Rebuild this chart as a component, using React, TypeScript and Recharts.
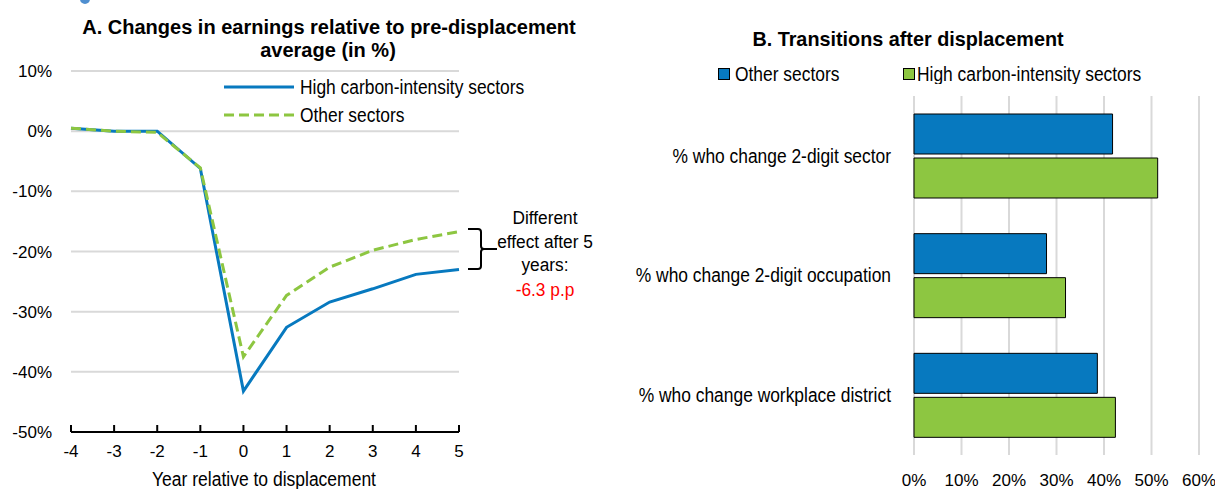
import React from "react";
import {
  LineChart,
  Line,
  BarChart,
  Bar,
  CartesianGrid,
  XAxis,
  YAxis,
  Legend,
} from "recharts";

// Panel A: earnings change relative to pre-displacement average (%)
const years = [-4, -3, -2, -1, 0, 1, 2, 3, 4, 5];
const highCarbon = [0.5, 0.0, 0.0, -6.2, -43.2, -32.6, -28.4, -26.2, -23.8, -23.0];
const otherSectors = [0.5, 0.0, -0.2, -6.1, -37.5, -27.3, -22.6, -19.8, -18.0, -16.7];
const earningsTicks = [-50, -40, -30, -20, -10, 0, 10];

// Panel B: transitions after displacement (%)
const transitions = [
  "% who change 2-digit sector",
  "% who change 2-digit occupation",
  "% who change workplace district",
];
const otherShare = [41.8, 27.9, 38.6];
const highCarbonShare = [51.3, 31.9, 42.4];
const shareTicks = [0, 10, 20, 30, 40, 50, 60];

const FONT = '"Liberation Sans", Arial, sans-serif';
const BLUE = "#0779BF";
const GREEN = "#8DC641";
const GRID = "#d9d9d9";
const NARROW = 0.87;

const earningsData = years.map((y, i) => ({
  year: y,
  high: highCarbon[i],
  other: otherSectors[i],
}));

const transitionData = transitions.map((c, i) => ({
  category: c,
  other: otherShare[i],
  high: highCarbonShare[i],
}));

const pct = (v: number) => `${v}%`;

// condensed text (stand-in for Arial Narrow)
const NText = ({
  x,
  y,
  size = 20,
  anchor = "start",
  fill = "#000",
  sx = NARROW,
  bold = false,
  children,
}: any) => (
  <text
    transform={`translate(${x},${y}) scale(${sx},1)`}
    textAnchor={anchor}
    dominantBaseline="central"
    fontSize={size}
    fontFamily={FONT}
    fontWeight={bold ? "bold" : "normal"}
    fill={fill}
  >
    {children}
  </text>
);

const CategoryTick = (props: any) => {
  const { x, y, payload } = props;
  return (
    <NText x={x} y={y} anchor="end">
      {payload.value}
    </NText>
  );
};

const LineLegend = () => (
  <svg width={320} height={50} style={{ display: "block" }}>
    <line x1={0} x2={70} y1={10} y2={10} stroke={BLUE} strokeWidth={3} />
    <NText x={76} y={10}>High carbon-intensity sectors</NText>
    <line x1={0} x2={70} y1={38} y2={38} stroke={GREEN} strokeWidth={3} strokeDasharray="10 5" />
    <NText x={76} y={38}>Other sectors</NText>
  </svg>
);

const BarLegend = () => (
  <svg width={440} height={20} style={{ display: "block" }}>
    <rect x={0.5} y={4.5} width={11} height={11} fill={BLUE} stroke="#000" />
    <NText x={17} y={10}>Other sectors</NText>
    <rect x={185.5} y={4.5} width={11} height={11} fill={GREEN} stroke="#000" />
    <NText x={199} y={10}>High carbon-intensity sectors</NText>
  </svg>
);

const tickStyle = { fontSize: 17, fill: "#000", fontFamily: FONT };

export default function App() {
  return (
    <div
      style={{
        position: "absolute",
        left: 0,
        top: 0,
        width: 1215,
        height: 489,
        background: "#fff",
        fontFamily: FONT,
        overflow: "hidden",
      }}
    >
      {/* Panel A */}
      <div style={{ position: "absolute", left: 0, top: 0 }}>
        <LineChart
          width={600}
          height={489}
          data={earningsData}
          margin={{ top: 71, right: 141, bottom: 0, left: 0 }}
        >
          <CartesianGrid horizontal vertical={false} stroke={GRID} strokeWidth={2} />
          <XAxis
            dataKey="year"
            type="number"
            domain={[-4, 5]}
            ticks={years}
            height={57}
            tickSize={-7}
            tickMargin={20}
            axisLine={{ stroke: "#000", strokeWidth: 2 }}
            tickLine={{ stroke: "#000", strokeWidth: 2 }}
            tick={tickStyle}
          />
          <YAxis
            type="number"
            domain={[-50, 10]}
            ticks={earningsTicks}
            width={71}
            axisLine={false}
            tickLine={false}
            tickSize={0}
            tickMargin={19}
            tickFormatter={pct}
            tick={tickStyle}
          />
          <Legend
            layout="horizontal"
            verticalAlign="middle"
            align="center"
            content={() => <LineLegend />}
            wrapperStyle={{ left: 224, top: 77, width: 320, height: 50 }}
          />
          <Line
            dataKey="high"
            name="High carbon-intensity sectors"
            stroke={BLUE}
            strokeWidth={3}
            dot={false}
            isAnimationActive={false}
          />
          <Line
            dataKey="other"
            name="Other sectors"
            stroke={GREEN}
            strokeWidth={3}
            strokeDasharray="10 5"
            dot={false}
            isAnimationActive={false}
          />
        </LineChart>
      </div>

      {/* Panel B */}
      <div style={{ position: "absolute", left: 600, top: 0 }}>
        <BarChart
          width={615}
          height={489}
          data={transitionData}
          layout="vertical"
          margin={{ top: 96, right: 16, bottom: 0, left: 0 }}
          barSize={40}
          barGap={4}
        >
          <CartesianGrid horizontal={false} vertical stroke={GRID} strokeWidth={2} />
          <XAxis
            type="number"
            domain={[0, 60]}
            ticks={shareTicks}
            height={34}
            axisLine={false}
            tickLine={false}
            tickSize={0}
            tickMargin={19}
            tickFormatter={pct}
            tick={tickStyle}
          />
          <YAxis
            type="category"
            dataKey="category"
            width={314}
            axisLine={false}
            tickLine={false}
            tickSize={0}
            tickMargin={23}
            tick={<CategoryTick />}
          />
          <Legend
            layout="horizontal"
            verticalAlign="middle"
            align="center"
            content={() => <BarLegend />}
            wrapperStyle={{ left: 118, top: 64, width: 440, height: 20 }}
          />
          <Bar dataKey="other" name="Other sectors" fill={BLUE} stroke="#000" strokeWidth={1} isAnimationActive={false} />
          <Bar dataKey="high" name="High carbon-intensity sectors" fill={GREEN} stroke="#000" strokeWidth={1} isAnimationActive={false} />
        </BarChart>
      </div>

      {/* titles and annotation */}
      <svg
        width={1215}
        height={489}
        style={{ position: "absolute", left: 0, top: 0, pointerEvents: "none" }}
      >
        <circle cx={85} cy={-1} r={5} fill="#4f8fd0" />
        <NText x={329} y={27} size={20} bold sx={1} anchor="middle">
          A. Changes in earnings relative to pre-displacement
        </NText>
        <NText x={328} y={50} size={20} bold sx={1} anchor="middle">
          average (in %)
        </NText>
        <NText x={908} y={39} size={20} bold sx={0.99} anchor="middle">
          B. Transitions after displacement
        </NText>
        <NText x={264} y={479} size={20} sx={0.875} anchor="middle">
          Year relative to displacement
        </NText>
        <path
          d="M468 229 H478 Q481 229 481 232 V246 Q481 249 484 249 H497 M484 249 Q481 249 481 252 V266 Q481 269 478 269 H468"
          fill="none"
          stroke="#000"
          strokeWidth={2}
        />
        <NText x={545} y={218} size={19} sx={0.91} anchor="middle">Different</NText>
        <NText x={545} y={242} size={19} sx={0.91} anchor="middle">effect after 5</NText>
        <NText x={545} y={265} size={19} sx={0.91} anchor="middle">years:</NText>
        <NText x={545} y={290} size={19} sx={0.91} anchor="middle" fill="#ff0000">
          -6.3 p.p
        </NText>
      </svg>
    </div>
  );
}
